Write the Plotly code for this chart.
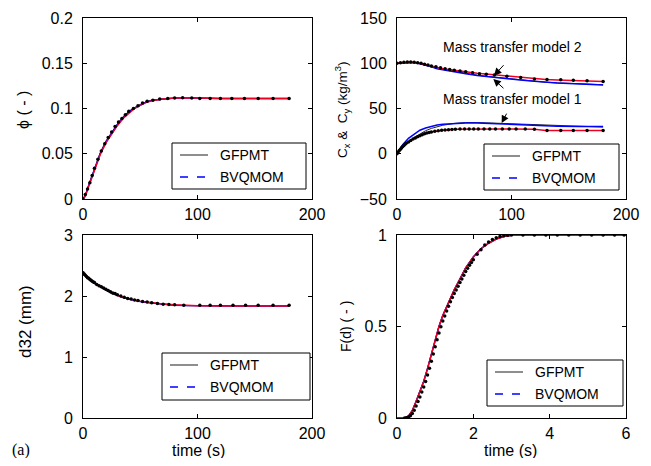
import plotly.graph_objects as go

# page body has an 8px margin; the figure is sized so page = 651x466
OFF = 8
W, H = 651 - 2 * OFF, 466 - 2 * OFF

# ---------------- data ----------------
# Panel 1: phi vs time
t_phi = [0, 2, 5, 10, 15, 20, 25, 30, 35, 40, 45, 50, 55, 60, 70, 80, 90, 100, 110, 120, 140, 160, 180]
phi_gfpmt = [0, 0.004, 0.016, 0.034, 0.051, 0.064, 0.074, 0.083, 0.091, 0.097, 0.101, 0.1045, 0.107, 0.109, 0.1105, 0.1115, 0.112, 0.1115, 0.111, 0.111, 0.111, 0.111, 0.111]
phi_bvqmom = [0, 0.004, 0.015, 0.033, 0.05, 0.063, 0.073, 0.082, 0.09, 0.096, 0.1005, 0.104, 0.107, 0.109, 0.1105, 0.1115, 0.112, 0.1115, 0.111, 0.111, 0.111, 0.111, 0.111]
phi_red = [0, 0.003, 0.014, 0.032, 0.049, 0.062, 0.072, 0.081, 0.089, 0.095, 0.1, 0.1035, 0.1065, 0.1085, 0.1105, 0.1115, 0.112, 0.1115, 0.111, 0.111, 0.111, 0.111, 0.111]
t_phi_dot = [0, 2, 4, 6, 8, 10, 13, 16, 19, 22, 25, 28, 31, 34, 37, 40, 44, 48, 52, 56, 61, 67, 74, 80, 87, 95, 102, 111, 120, 130, 141, 153, 166, 180]
phi_dot = [0, 0.005, 0.011, 0.018, 0.026, 0.034, 0.044, 0.053, 0.061, 0.068, 0.074, 0.08, 0.085, 0.089, 0.093, 0.097, 0.1, 0.103, 0.106, 0.108, 0.109, 0.1105, 0.111, 0.1115, 0.112, 0.1115, 0.111, 0.111, 0.111, 0.111, 0.111, 0.111, 0.111, 0.111]

# Panel 2: Cx & Cy vs time
t_c = [0, 5, 10, 15, 20, 25, 30, 35, 40, 50, 60, 70, 80, 90, 100, 110, 120, 130, 140, 160, 180]
cy_model1_gfpmt = [100, 100.5, 101, 100.8, 99.8, 98, 96.5, 95, 93.5, 91, 88.5, 86.8, 85.3, 84, 82.8, 81.5, 80, 79, 78.3, 77.3, 76.3]
cy_model1_bvqmom = [100, 100.5, 101, 100.8, 99.5, 98, 96, 94, 92.8, 90.5, 88.3, 86.5, 85, 83.6, 82.5, 81.2, 80, 79, 78.2, 77, 76]
cy_model2 = [100, 101, 101.5, 101, 100, 98.5, 97, 95.5, 94, 92.3, 90.5, 89, 87.8, 86.5, 85.3, 84, 82.5, 82, 81.5, 80.8, 79.8]
cx_model1_gfpmt = [0, 7, 13, 18, 22, 25.5, 28, 30, 31.5, 33.5, 34.5, 34.5, 34, 33.5, 33, 32.5, 32, 31.5, 31, 30, 29.5]
cx_model1_bvqmom = [0, 10, 17, 22, 26, 28.5, 30.5, 31.8, 32.5, 33.5, 34, 34, 33.5, 33, 32.5, 31.8, 31, 30.7, 30.5, 30.2, 30]
cx_model2 = [0, 8, 13, 17, 20, 22.5, 24, 25.2, 26, 27, 27.3, 27.4, 27.4, 27.4, 27.4, 27.3, 27, 25.8, 25.7, 25.6, 25.6]
t_cy_dot = [0, 3, 6, 9, 12, 15, 18, 21, 24, 27, 30, 34, 38, 42, 46, 50, 55, 60, 66, 72, 78, 85, 96, 108, 120, 131, 143, 154, 166, 180]
cy_dot = [100, 100.5, 101, 101.5, 101.5, 101, 100.5, 100, 99, 98, 97, 96, 95, 94, 93, 92.3, 91.3, 90.5, 89.5, 88.5, 87.8, 87, 85.6, 84.3, 82.5, 82, 81.7, 81.2, 80.6, 79.8]
t_cx_dot = [0, 1, 2, 3, 4, 5, 6, 7, 8, 10, 12, 14, 16, 18, 20, 22, 24, 26, 28, 30, 33, 36, 39, 42, 45, 48, 51, 55, 59, 63, 67, 71, 76, 81, 86, 92, 98, 104, 112, 120, 131, 143, 154, 166, 180]
cx_dot = [0, 1.8, 3.5, 5, 6.5, 8, 9.2, 10.4, 11.5, 13, 14.7, 16.2, 17.5, 18.8, 20, 21, 22, 22.8, 23.5, 24, 24.8, 25.4, 25.9, 26.3, 26.6, 26.9, 27.1, 27.3, 27.4, 27.4, 27.4, 27.4, 27.4, 27.4, 27.4, 27.4, 27.4, 27.4, 27.3, 27.2, 25.8, 25.7, 25.6, 25.6, 25.6]

# Panel 3: d32 vs time
t_d = [0, 2, 5, 10, 15, 20, 25, 30, 35, 40, 50, 60, 70, 80, 90, 100, 120, 140, 160, 180]
d32_gfpmt = [2.37, 2.33, 2.28, 2.2, 2.14, 2.09, 2.04, 2.0, 1.97, 1.95, 1.91, 1.885, 1.865, 1.85, 1.843, 1.84, 1.835, 1.835, 1.835, 1.835]
d32_bvqmom = [2.38, 2.34, 2.29, 2.21, 2.15, 2.1, 2.05, 2.01, 1.98, 1.95, 1.91, 1.885, 1.865, 1.85, 1.843, 1.84, 1.835, 1.835, 1.835, 1.835]
d32_red = [2.4, 2.35, 2.3, 2.22, 2.16, 2.1, 2.05, 2.01, 1.98, 1.955, 1.915, 1.89, 1.87, 1.855, 1.845, 1.84, 1.835, 1.835, 1.835, 1.835]
t_d_dot = [0, 1, 2, 3, 4, 5, 6, 7, 8, 9, 10, 12, 14, 16, 18, 20, 22, 24, 26, 28, 30, 33, 36, 39, 42, 45, 48, 52, 56, 60, 65, 70, 75, 80, 88, 102, 111, 120, 131, 142, 153, 166, 180]
d32_dot = [2.38, 2.36, 2.34, 2.32, 2.3, 2.29, 2.27, 2.26, 2.24, 2.23, 2.22, 2.19, 2.17, 2.15, 2.13, 2.11, 2.09, 2.07, 2.05, 2.04, 2.02, 2.0, 1.98, 1.96, 1.95, 1.935, 1.925, 1.91, 1.9, 1.89, 1.875, 1.865, 1.86, 1.855, 1.85, 1.85, 1.85, 1.85, 1.85, 1.85, 1.85, 1.85, 1.85]

# Panel 4: F(d) vs time
t_f = [0, 0.2, 0.3, 0.4, 0.5, 0.6, 0.7, 0.8, 0.9, 1.0, 1.1, 1.2, 1.3, 1.4, 1.5, 1.6, 1.7, 1.8, 1.9, 2.0, 2.2, 2.4, 2.6, 2.8, 3.0, 3.2, 4, 5, 6]
f_gfpmt = [0, 0, 0.012, 0.042, 0.092, 0.142, 0.202, 0.272, 0.352, 0.432, 0.502, 0.562, 0.612, 0.662, 0.702, 0.742, 0.782, 0.822, 0.852, 0.882, 0.927, 0.957, 0.98, 0.993, 0.999, 1, 1, 1, 1]
f_bvqmom = [0, 0, 0.01, 0.04, 0.09, 0.14, 0.2, 0.27, 0.35, 0.43, 0.5, 0.56, 0.61, 0.66, 0.7, 0.74, 0.78, 0.82, 0.85, 0.88, 0.925, 0.955, 0.978, 0.992, 0.998, 1, 1, 1, 1]
f_red = [0, 0, 0.01, 0.04, 0.09, 0.14, 0.2, 0.27, 0.35, 0.43, 0.5, 0.56, 0.61, 0.66, 0.7, 0.74, 0.78, 0.82, 0.85, 0.88, 0.925, 0.955, 0.978, 0.992, 0.998, 1, 1, 1, 1]
t_f_dot = [0.2, 0.25, 0.3, 0.35, 0.4, 0.45, 0.5, 0.55, 0.6, 0.65, 0.7, 0.75, 0.8, 0.85, 0.9, 0.95, 1.0, 1.05, 1.1, 1.15, 1.2, 1.25, 1.3, 1.35, 1.4, 1.45, 1.5, 1.55, 1.6, 1.65, 1.7, 1.75, 1.8, 1.85, 1.9, 1.95, 2.0, 2.1, 2.2, 2.3, 2.4, 2.5, 2.6, 2.7, 2.8, 2.9, 3.0, 3.3, 3.6, 3.9, 4.2, 4.5, 4.8, 5.1, 5.4, 5.7, 5.95]
f_dot = [0, 0.002, 0.005, 0.012, 0.025, 0.043, 0.065, 0.09, 0.115, 0.142, 0.17, 0.2, 0.235, 0.272, 0.31, 0.35, 0.39, 0.428, 0.465, 0.498, 0.53, 0.558, 0.585, 0.61, 0.635, 0.658, 0.68, 0.7, 0.72, 0.74, 0.76, 0.78, 0.8, 0.818, 0.835, 0.85, 0.865, 0.895, 0.92, 0.945, 0.962, 0.975, 0.985, 0.992, 0.996, 0.999, 1, 1, 1, 1, 1, 1, 1, 1, 1, 1, 1]

legend_names = ["GFPMT", "BVQMOM"]

# ---------------- figure ----------------
fig = go.Figure()

def px_x(p):
    return (p - OFF) / W

def px_y(p):
    return 1 - (p - OFF) / H

BLACK = "#222222"
BLUE = "#0000ff"
RED = "#ee0020"
MS = 3.5

def add_panel(k, t_lines, blk, blu, red, t_dot, dots, extra=None):
    xa = "x" if k == 1 else f"x{k}"
    ya = "y" if k == 1 else f"y{k}"
    fig.add_trace(go.Scatter(x=t_lines, y=blk, mode="lines", line=dict(color=BLACK, width=1),
                             name=legend_names[0], xaxis=xa, yaxis=ya, showlegend=False))
    fig.add_trace(go.Scatter(x=t_lines, y=blu, mode="lines", line=dict(color=BLUE, width=1.5),
                             name=legend_names[1], xaxis=xa, yaxis=ya, showlegend=False))
    if extra:
        for (tx, vals, col, w) in extra:
            fig.add_trace(go.Scatter(x=tx, y=vals, mode="lines", line=dict(color=col, width=w),
                                     xaxis=xa, yaxis=ya, showlegend=False))
    fig.add_trace(go.Scatter(x=t_lines, y=red, mode="lines", line=dict(color=RED, width=1.5),
                             xaxis=xa, yaxis=ya, showlegend=False))
    fig.add_trace(go.Scatter(x=t_dot, y=dots, mode="markers", marker=dict(color="black", size=MS),
                             xaxis=xa, yaxis=ya, showlegend=False))

add_panel(1, t_phi, phi_gfpmt, phi_bvqmom, phi_red, t_phi_dot, phi_dot)
add_panel(2, t_c, cx_model1_gfpmt, cx_model1_bvqmom, cx_model2, t_cx_dot, cx_dot,
          extra=[(t_c, cy_model1_gfpmt, BLACK, 1), (t_c, cy_model1_bvqmom, BLUE, 1.5)])
fig.add_trace(go.Scatter(x=t_c, y=cy_model2, mode="lines", line=dict(color=RED, width=1.5),
                         xaxis="x2", yaxis="y2", showlegend=False))
fig.add_trace(go.Scatter(x=t_cy_dot, y=cy_dot, mode="markers", marker=dict(color="black", size=MS),
                         xaxis="x2", yaxis="y2", showlegend=False))
add_panel(3, t_d, d32_gfpmt, d32_bvqmom, d32_red, t_d_dot, d32_dot)
add_panel(4, t_f, f_gfpmt, f_bvqmom, f_red, t_f_dot, f_dot)

FONT = "Liberation Sans, Arial, sans-serif"
tickfont = dict(family=FONT, size=16, color="black")

def axis(domain, rng, dtick, anchor, standoff=0):
    d = dict(domain=domain, range=rng, dtick=dtick, tick0=rng[0], anchor=anchor,
             showline=True, linecolor="black", linewidth=1, mirror="ticks",
             ticks="inside", ticklen=4, tickcolor="black", showgrid=False, zeroline=False,
             tickfont=tickfont, fixedrange=True, automargin=False)
    if standoff:
        d["ticklabelstandoff"] = standoff
    return d

xl = [px_x(83), px_x(312)]
xr = [px_x(397), px_x(626)]
yt = [px_y(199), px_y(18)]
yb = [px_y(418), px_y(235)]

fig.update_layout(
    width=W, height=H, margin=dict(l=0, r=0, t=0, b=0, pad=0, autoexpand=False),
    paper_bgcolor="white", plot_bgcolor="white",
    xaxis=axis(xl, [0, 200], 100, "y", 1),
    yaxis=axis(yt, [0, 0.2], 0.05, "x", 6),
    xaxis2=axis(xr, [0, 200], 100, "y2", 1),
    yaxis2=axis(yt, [-50, 150], 50, "x2", 6),
    xaxis3=axis(xl, [0, 200], 100, "y3", 1),
    yaxis3=axis(yb, [0, 3], 1, "x3", 6),
    xaxis4=axis(xr, [0, 6], 2, "y4", 1),
    yaxis4=axis(yb, [0, 1], 0.5, "x4", 6),
    showlegend=False,
)

annots = []
shapes = []

def txt(text, x, y, size=14, angle=0, family=FONT, xanchor="center"):
    annots.append(dict(text=text, x=px_x(x), y=px_y(y), xref="paper", yref="paper",
                       showarrow=False, xanchor=xanchor, yanchor="middle", textangle=angle,
                       font=dict(family=family, size=size, color="black")))

# legend boxes drawn in page pixels: (left, top, right, bottom)
legend_boxes = [(172, 143, 306, 189), (484, 144, 619, 190), (162, 353, 310, 400), (487, 360, 623, 406)]
for (l, t, r, b) in legend_boxes:
    shapes.append(dict(type="rect", xref="paper", yref="paper", x0=px_x(l), x1=px_x(r),
                       y0=px_y(b), y1=px_y(t), line=dict(color="black", width=1), fillcolor="white", layer="above"))
    y1 = t + 12
    y2 = t + 34
    shapes.append(dict(type="line", xref="paper", yref="paper", x0=px_x(l + 8), x1=px_x(l + 36),
                       y0=px_y(y1), y1=px_y(y1), line=dict(color="#444444", width=1.2), layer="above"))
    shapes.append(dict(type="line", xref="paper", yref="paper", x0=px_x(l + 8), x1=px_x(l + 36),
                       y0=px_y(y2), y1=px_y(y2), line=dict(color=BLUE, width=1.3, dash="8px,9px"), layer="above"))
    txt(legend_names[0], l + 46, y1, 14, 0, FONT, "left")
    txt(legend_names[1], l + 46, y2, 14, 0, FONT, "left")

txt("ϕ ( - )", 23, 110, 16, -90)
txt("C<sub>x</sub> &amp;  C<sub>y</sub> (kg/m<sup>3</sup>)", 342, 110, 13.5, -90)
txt("d32 (mm)", 25, 322, 17, -90)
txt("F(d) ( - )", 346, 327, 14, -90)
txt("time (s)", 198, 450, 16)
txt("time (s)", 510, 450, 16)
txt("(a)", 21, 450, 16, 0, "Liberation Serif, Times New Roman, serif")

# Panel-2 labels and arrows (data coordinates)
for (label, x, y) in [("Mass transfer model 2", 101, 118), ("Mass transfer model 1", 101, 60)]:
    annots.append(dict(text=label, x=x, y=y, xref="x2", yref="y2", showarrow=False,
                       font=dict(family=FONT, size=14, color="black")))
for (hx, hy, tx, ty) in [(84.7, 86.3, 94.3, 99.5), (84.1, 82.6, 94.3, 70.9), (91.4, 33.9, 96.4, 46)]:
    annots.append(dict(text="", x=hx, y=hy, ax=tx, ay=ty, xref="x2", yref="y2", axref="x2", ayref="y2",
                       showarrow=True, arrowhead=2, arrowsize=1.5, arrowwidth=1, arrowcolor="black",
                       standoff=0, startstandoff=0))

fig.update_layout(annotations=annots, shapes=shapes)
fig.write_html("out.html")
